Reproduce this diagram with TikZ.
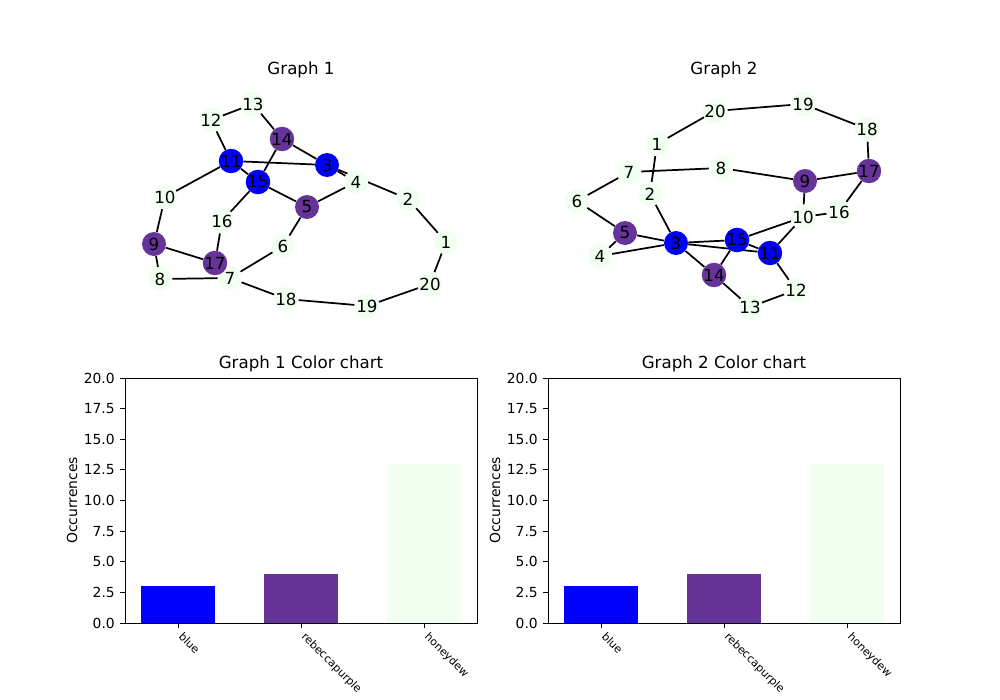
\documentclass[tikz,border=0pt]{standalone}
\usepackage{fontspec}
\setmainfont{DejaVu Sans}
\definecolor{rpurple}{HTML}{663399}
\definecolor{honeydew}{HTML}{F0FFF0}
\pgfdeclarelayer{bg}
\pgfsetlayers{bg,main}
\pgfkeys{/pgf/number format/assume math mode=true}
\tikzset{
  vtx/.style={circle,inner sep=0pt,minimum size=18pt,font=\fontsize{12.5}{13}\selectfont},
  bl/.style={vtx,fill=blue},
  rp/.style={vtx,fill=rpurple},
  hd/.style={vtx,fill=honeydew},
  ttl/.style={font=\fontsize{12.5}{14}\selectfont},
  ticklbl/.style={font=\fontsize{10.4}{12}\selectfont,inner sep=0pt},
  catlbl/.style={font=\fontsize{8.3}{10}\selectfont,inner sep=0pt,rotate=-45,anchor=north west},
  frm/.style={line width=0.7pt},
}
\begin{document}
\begin{tikzpicture}[x=0.75pt,y=-0.75pt]
  \useasboundingbox (0,0) rectangle (1000,700);
  \node[ttl] (t1) at (301,70) {Graph 1};
  \node[ttl] (t2) at (724,70) {Graph 2};
  \path
    (446,242) node[hd] (a1){1}
    (408,199) node[hd] (a2){2}
    (327,165) node[bl] (a3){3}
    (356,182) node[hd] (a4){4}
    (307,207) node[rp] (a5){5}
    (283,246) node[hd] (a6){6}
    (230,278) node[hd] (a7){7}
    (160,279) node[hd] (a8){8}
    (154,244) node[rp] (a9){9}
    (165,197) node[hd] (a10){10}
    (231,161) node[bl] (a11){11}
    (211,120) node[hd] (a12){12}
    (253,104) node[hd] (a13){13}
    (282,139) node[rp] (a14){14}
    (258,182) node[bl] (a15){15}
    (222,221) node[hd] (a16){16}
    (215,263) node[rp] (a17){17}
    (286,299) node[hd] (a18){18}
    (367,306) node[hd] (a19){19}
    (430,284) node[hd] (a20){20};
  \path
    (657,144) node[hd] (b1){1}
    (650,194) node[hd] (b2){2}
    (676,243) node[bl] (b3){3}
    (600,256) node[hd] (b4){4}
    (625,233) node[rp] (b5){5}
    (577,201) node[hd] (b6){6}
    (629,172) node[hd] (b7){7}
    (721,168) node[hd] (b8){8}
    (805,181) node[rp] (b9){9}
    (803,217) node[hd] (b10){10}
    (770,253) node[bl] (b11){11}
    (796,290) node[hd] (b12){12}
    (750,307) node[hd] (b13){13}
    (714,275) node[rp] (b14){14}
    (737,240) node[bl] (b15){15}
    (839,212) node[hd] (b16){16}
    (869,171) node[rp] (b17){17}
    (867,129) node[hd] (b18){18}
    (803,104) node[hd] (b19){19}
    (715,111) node[hd] (b20){20};
  \begin{pgfonlayer}{bg}
  \begin{scope}[line width=1.3pt]
    \draw (a12) to (a13);
    \draw (a13) to (a14);
    \draw (a11) to (a12);
    \draw (a3) to (a14);
    \draw (a14) to (a15);
    \draw (a3) to (a11);
    \draw (a11) to (a15);
    \draw (a10) to (a11);
    \draw (a5) to (a15);
    \draw (a15) to (a16);
    \draw (a3) to (a4);
    \draw (a2) to (a3);
    \draw (a4) to (a5);
    \draw (a1) to (a2);
    \draw (a1) to (a20);
    \draw (a19) to (a20);
    \draw (a18) to (a19);
    \draw (a7) to (a18);
    \draw (a6) to (a7);
    \draw (a5) to (a6);
    \draw (a7) to (a8);
    \draw (a8) to (a9);
    \draw (a9) to (a10);
    \draw (a9) to (a17);
    \draw (a16) to (a17);
    \draw (a7) to (a17);
    \draw (b1) to (b20);
    \draw (b19) to (b20);
    \draw (b18) to (b19);
    \draw (b17) to (b18);
    \draw (b9) to (b17);
    \draw (b16) to (b17);
    \draw (b10) to (b16);
    \draw (b9) to (b10);
    \draw (b8) to (b9);
    \draw (b7) to (b8);
    \draw (b6) to (b7);
    \draw (b1) to (b2);
    \draw (b2) to (b3);
    \draw (b5) to (b6);
    \draw (b4) to (b5);
    \draw (b3) to (b5);
    \draw (b3) to (b4);
    \draw (b3) to (b15);
    \draw (b3) to (b11);
    \draw (b3) to (b14);
    \draw (b10) to (b15);
    \draw (b11) to (b15);
    \draw (b10) to (b11);
    \draw (b14) to (b15);
    \draw (b13) to (b14);
    \draw (b12) to (b13);
    \draw (b11) to (b12);
  \end{scope}
  \end{pgfonlayer}
  \foreach \ox/\g in {0/1,423/2} {
    \fill[blue] (\ox+141,623) rectangle (\ox+215,586.25);
    \fill[rpurple] (\ox+264,623) rectangle (\ox+338,574);
    \fill[honeydew] (\ox+387,623) rectangle (\ox+461,463.75);
    \draw[frm] (\ox+125,378) rectangle (\ox+477,623);
    \node[ttl] (ct\g) at (\ox+301,364) {Graph \g{} Color chart};
    \node[ticklbl,rotate=90] (oc\g) at (\ox+72,500.5) {Occurrences};
    \foreach \v in {0,2.5,...,20} {
      \draw[frm] (\ox+125,623-12.25*\v) -- (\ox+120.1,623-12.25*\v);
      \node[ticklbl,anchor=east] at (\ox+115,623-12.25*\v)
        {\pgfmathprintnumber[fixed,fixed zerofill,precision=1]{\v}};
    }
    \foreach \tx/\nm in {178/blue,301/rebeccapurple,424/honeydew} {
      \draw[frm] (\ox+\tx,623) -- (\ox+\tx,627.9);
      \node[catlbl] at (\ox+\tx+6,631) {\nm};
    }
  }
\end{tikzpicture}
\end{document}
